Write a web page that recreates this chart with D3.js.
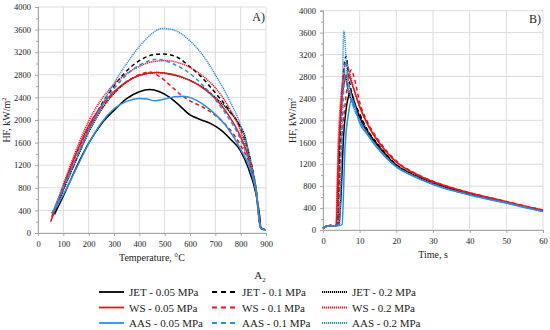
<!DOCTYPE html>
<html>
<head>
<meta charset="utf-8">
<script src="https://cdnjs.cloudflare.com/ajax/libs/d3/7.8.5/d3.min.js"></script>
<style>
body{margin:0;background:#fff;}
svg text{font-family:"Liberation Serif","Times New Roman",serif;fill:#222;}
</style>
</head>
<body>
<script>
// panel A - heat flux vs surface temperature, [T, HF]
const jet005A = [[65,330],[100,650],[150,1150],[200,1590],[250,1930],[300,2170],[350,2380],[400,2500],[440,2540],[480,2500],[520,2400],[560,2250],[600,2090],[640,2010],[680,1940],[720,1830],[760,1660],[800,1450],[830,1150],[860,700],[875,300],[880,80],[895,60]];
const jet01A  = [[60,340],[100,780],[150,1300],[200,1830],[250,2270],[300,2600],[350,2870],[400,3050],[450,3150],[490,3170],[550,3110],[600,2940],[650,2740],[700,2480],[750,2200],[800,1850],[830,1450],[860,800],[880,90],[895,60]];
const jet02A  = [[60,330],[100,760],[150,1280],[200,1780],[250,2180],[300,2470],[350,2670],[400,2790],[470,2840],[530,2800],[600,2700],[650,2580],[700,2400],[750,2180],[800,1880],[812,1780],[835,1350],[860,780],[880,90],[895,60]];
const ws005A  = [[50,200],[100,820],[150,1400],[200,1900],[250,2250],[300,2500],[350,2680],[400,2790],[470,2840],[530,2810],[600,2700],[650,2570],[700,2380],[750,2100],[800,1700],[840,1200],[860,800],[880,80],[895,60]];
const ws01A   = [[55,280],[100,820],[150,1380],[200,1850],[250,2200],[300,2480],[350,2680],[400,2800],[440,2850],[480,2770],[520,2620],[560,2460],[600,2340],[650,2230],[700,2080],[750,1870],[800,1550],[840,1150],[860,750],[880,80],[895,60]];
const ws02A   = [[55,300],[100,860],[150,1460],[200,1980],[250,2360],[300,2630],[350,2820],[400,2950],[450,3030],[500,3050],[550,3020],[600,2930],[650,2780],[700,2570],[750,2250],[800,1800],[830,1350],[860,750],[880,80],[895,60]];
const aas005A = [[55,350],[100,680],[150,1130],[200,1580],[250,1950],[300,2200],[350,2330],[400,2380],[430,2370],[460,2340],[500,2370],[540,2410],[570,2420],[620,2360],[660,2250],[700,2100],[750,1850],[800,1480],[840,1100],[860,750],[880,80],[900,50]];
const aas01A  = [[55,340],[100,800],[150,1330],[200,1820],[250,2230],[300,2550],[350,2800],[400,2970],[470,3075],[530,3000],[600,2820],[650,2620],[700,2360],[750,2050],[800,1650],[840,1150],[860,780],[880,80],[900,50]];
const aas02A  = [[55,350],[100,800],[150,1300],[200,1800],[250,2250],[300,2650],[350,3000],[400,3300],[450,3530],[490,3620],[530,3600],[600,3400],[650,3150],[700,2800],[750,2400],[800,1900],[830,1450],[860,800],[880,100],[900,50]];

// panel B - heat flux vs time, [t, HF]
const jet005B = [[0,30],[1,70],[2,80],[3,75],[4.3,90],[4.9,600],[5.6,1700],[6.4,2250],[7,2450],[7.5,2530],[8.5,2350],[10,2050],[12,1800],[15,1530],[20,1180],[25,990],[30,850],[35,745],[40,655],[45,575],[50,500],[55,420],[60,345]];
const jet01B  = [[0,30],[1,70],[2,80],[3,75],[4,90],[4.6,1500],[5.5,2800],[6.3,3170],[7,2800],[8,2450],[10,2120],[12,1840],[15,1560],[20,1190],[25,1000],[30,860],[35,750],[40,660],[45,580],[50,505],[55,425],[60,350]];
const jet02B  = [[0,30],[1,70],[2,80],[3,75],[4,90],[4.5,1500],[5.3,2600],[5.9,2840],[7,2500],[8.5,2280],[10,2080],[12,1830],[15,1550],[20,1190],[25,1000],[30,860],[35,750],[40,660],[45,580],[50,505],[55,425],[60,350]];
const ws005B  = [[0,30],[1,70],[2,80],[3,75],[3.6,90],[4.2,1300],[5.2,2400],[6.3,2800],[6.8,2850],[8,2650],[10,2250],[12,1950],[15,1620],[20,1240],[25,1030],[30,880],[35,770],[40,675],[45,595],[50,515],[55,435],[60,360]];
const ws01B   = [[0,30],[1,70],[2,80],[3,75],[3.9,90],[4.6,1100],[5.6,2000],[6.7,2650],[7.7,2920],[8.6,2750],[10,2330],[12,1990],[15,1650],[20,1260],[25,1040],[30,890],[35,775],[40,680],[45,600],[50,520],[55,440],[60,365]];
const ws02B   = [[0,30],[1,70],[2,80],[3,75],[3.5,90],[4.1,1500],[5.3,2700],[6.4,3060],[7.3,2850],[8.5,2550],[10,2250],[12,1950],[15,1620],[20,1240],[25,1030],[30,880],[35,770],[40,675],[45,595],[50,515],[55,435],[60,360]];
const aas005B = [[0,30],[1,70],[2,80],[3,75],[4.5,80],[5.2,100],[6,1500],[7,2150],[7.8,2400],[8.5,2300],[10,1950],[12,1750],[15,1480],[20,1150],[25,970],[30,830],[35,725],[40,640],[45,560],[50,490],[55,410],[60,335]];
const aas01B  = [[0,30],[1,70],[2,80],[3,75],[4.4,100],[5.2,1800],[6.2,3075],[7,2700],[8,2350],[10,2000],[12,1770],[15,1500],[20,1160],[25,980],[30,840],[35,730],[40,645],[45,565],[50,495],[55,415],[60,340]];
const aas02B  = [[0,30],[1,70],[2,80],[3,75],[4.5,100],[5,1500],[5.7,3630],[6.5,2900],[7.5,2450],[10,2000],[12,1770],[15,1500],[20,1160],[25,980],[30,840],[35,730],[40,645],[45,565],[50,495],[55,415],[60,340]];

const seriesNames = ['JET - 0.05 MPa','JET - 0.1 MPa','JET - 0.2 MPa',
                     'WS - 0.05 MPa','WS - 0.1 MPa','WS - 0.2 MPa',
                     'AAS - 0.05 MPa','AAS - 0.1 MPa','AAS - 0.2 MPa'];
const dataA = [jet005A,jet01A,jet02A,ws005A,ws01A,ws02A,aas005A,aas01A,aas02A];
const dataB = [jet005B,jet01B,jet02B,ws005B,ws01B,ws02B,aas005B,aas01B,aas02B];

const tempTicks = d3.range(0,901,100);
const timeTicks = d3.range(0,61,10);
const hfTicks = d3.range(0,4001,400);

const colors = ['#000000','#e8141b','#2e8ddb'];
const dashes = [null,'4,3','1.2,0.8'];

function styleOf(i){
  return {color: colors[Math.floor(i/3)], dash: dashes[i%3]};
}

const svg = d3.select('body').append('svg')
  .attr('width',550).attr('height',330);

function drawPanel(opt){
  const x = d3.scaleLinear().domain(opt.xDomain).range(opt.xRange);
  const y = d3.scaleLinear().domain([0,4000]).range(opt.yRange);
  const g = svg.append('g');

  // grid
  g.selectAll('.vgrid').data(opt.xTicks).enter().append('line')
    .attr('x1',d=>x(d)).attr('x2',d=>x(d))
    .attr('y1',y(0)).attr('y2',y(4000))
    .attr('stroke','#dcdcdc').attr('stroke-width',1);
  g.selectAll('.hgrid').data(hfTicks).enter().append('line')
    .attr('x1',x.range()[0]).attr('x2',x.range()[1])
    .attr('y1',d=>y(d)).attr('y2',d=>y(d))
    .attr('stroke','#dcdcdc').attr('stroke-width',1);

  // axes
  const xAxis = d3.axisBottom(x).tickValues(opt.xTicks).tickFormat(d3.format('d')).tickSize(3).tickPadding(5);
  const yAxis = d3.axisLeft(y).tickValues(hfTicks).tickFormat(d3.format('d')).tickSize(3).tickPadding(4);
  const yMinor = d3.axisLeft(y).tickValues(d3.range(200,4000,400)).tickSize(2).tickFormat('');

  g.append('g').attr('transform','translate(0,'+y(0)+')').call(xAxis).attr('font-family',null);
  g.append('g').attr('transform','translate('+x.range()[0]+',0)').call(yAxis).attr('font-family',null);
  g.append('g').attr('transform','translate('+x.range()[0]+',0)').call(yMinor);
  g.selectAll('.domain').attr('stroke','#a6a6a6');
  g.selectAll('.tick line').attr('stroke','#a6a6a6');
  g.selectAll('.tick text').attr('font-size','8.5px').attr('fill','#333');

  // lines
  const line = d3.line().x(d=>x(d[0])).y(d=>y(d[1])).curve(d3.curveMonotoneX);
  opt.data.forEach((s,i)=>{
    const st = styleOf(i);
    g.append('path')
      .datum(s)
      .attr('fill','none')
      .attr('stroke',st.color)
      .attr('stroke-width',1.5)
      .attr('stroke-dasharray',st.dash)
      .attr('stroke-linejoin','round')
      .attr('d',line);
  });

  // titles
  g.append('text').text(opt.xTitle)
    .attr('x',(opt.xRange[0]+opt.xRange[1])/2).attr('y',opt.xTitleY)
    .attr('text-anchor','middle').attr('font-size','10px');
  const yt = g.append('text')
    .attr('transform','translate('+opt.yTitleX+','+((opt.yRange[0]+opt.yRange[1])/2)+') rotate(-90)')
    .attr('text-anchor','middle').attr('font-size','10px');
  yt.append('tspan').text('HF, kW/m');
  yt.append('tspan').text('2').attr('font-size','6.5px').attr('dy',-4);

  g.append('text').text(opt.label)
    .attr('x',opt.labelX).attr('y',opt.labelY)
    .attr('text-anchor','end').attr('font-size','12px');
}

drawPanel({
  xDomain:[0,900], xRange:[38,266], yRange:[233,7], xTicks:tempTicks, data:dataA,
  xTitle:'Temperature, \u00B0C', xTitleY:261, yTitleX:10, label:'A)', labelX:265, labelY:21
});
drawPanel({
  xDomain:[0,60], xRange:[323,543], yRange:[230,10.7], xTicks:timeTicks, data:dataB,
  xTitle:'Time, s', xTitleY:258, yTitleX:296, label:'B)', labelX:541, labelY:23
});

// legend
const legend = svg.append('g');
const lt = legend.append('text').attr('x',260).attr('y',279)
  .attr('text-anchor','middle').attr('font-size','11px');
lt.append('tspan').text('A');
lt.append('tspan').text('2').attr('font-size','7px').attr('dy',3);

const colX = [99,212,322];
const rowY = [292,307.5,323];
seriesNames.forEach((name,i)=>{
  const st = styleOf(i);
  const cx = colX[i%3], cy = rowY[Math.floor(i/3)];
  legend.append('line')
    .attr('x1',cx).attr('x2',cx+25).attr('y1',cy).attr('y2',cy)
    .attr('stroke',st.color).attr('stroke-width',1.8)
    .attr('stroke-dasharray',st.dash=='4,3' ? '5,4' : st.dash);
  legend.append('text').text(name)
    .attr('x',cx+30).attr('y',cy+4)
    .attr('font-size','11px');
});
</script>
</body>
</html>
